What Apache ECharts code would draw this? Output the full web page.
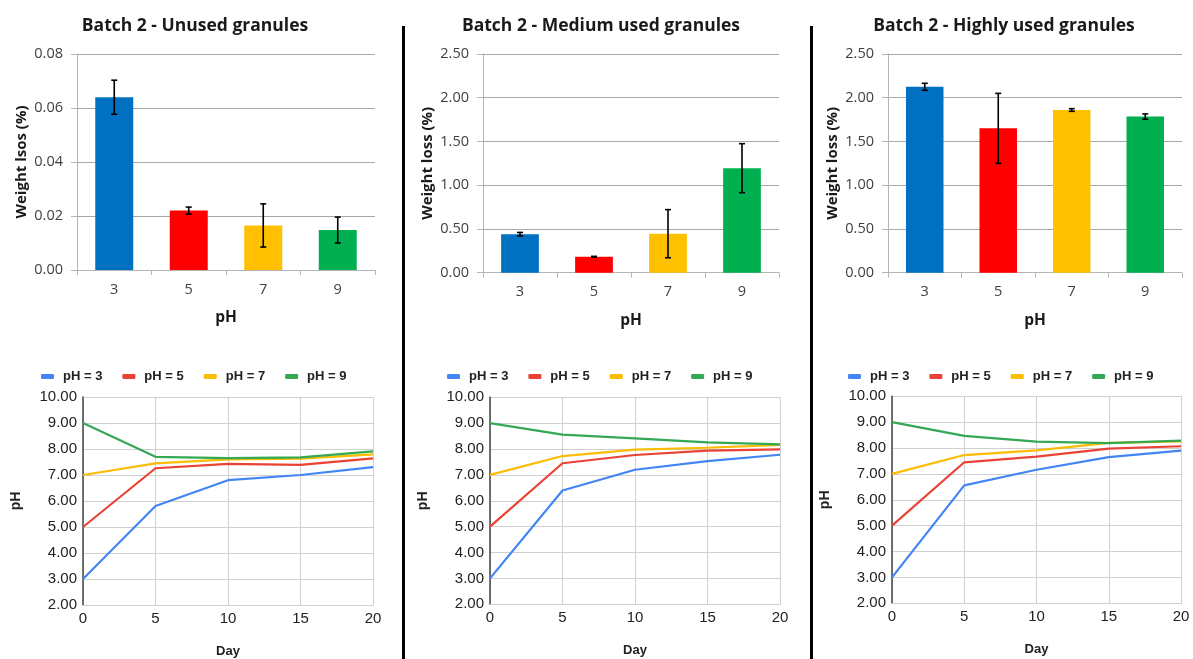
<!DOCTYPE html>
<html>
<head>
<meta charset="utf-8">
<script src="https://cdn.jsdelivr.net/npm/echarts@6/dist/echarts.min.js"></script>
<style>html,body{margin:0;padding:0;background:#fff}#c{width:1193px;height:659px}</style>
</head>
<body>
<div id="c"></div>
<script>
// ---- data ----
const phCats = ['3', '5', '7', '9'];
const barColors = ['#0070C0', '#FF0000', '#FFC000', '#00B050'];
const unusedMean = [0.064, 0.022, 0.0165, 0.0148];
const unusedErr  = [0.0063, 0.0013, 0.008, 0.0048];
const mediumMean = [0.44, 0.183, 0.446, 1.195];
const mediumErr  = [0.02, 0.004, 0.275, 0.28];
const highMean   = [2.125, 1.65, 1.86, 1.785];
const highErr    = [0.04, 0.4, 0.015, 0.03];

const days = [0, 5, 10, 15, 20];
const lineNames = ['pH = 3', 'pH = 5', 'pH = 7', 'pH = 9'];
const lineColors = ['#4285F4', '#EA4335', '#FBBC04', '#34A853'];
const unusedPH3 = [3.00, 5.81, 6.80, 7.00, 7.30];
const unusedPH5 = [5.00, 7.26, 7.43, 7.39, 7.64];
const unusedPH7 = [7.00, 7.45, 7.60, 7.63, 7.79];
const unusedPH9 = [9.00, 7.70, 7.65, 7.68, 7.91];
const mediumPH3 = [3.00, 6.40, 7.20, 7.53, 7.78];
const mediumPH5 = [5.00, 7.45, 7.77, 7.94, 7.99];
const mediumPH7 = [7.00, 7.73, 7.98, 8.05, 8.16];
const mediumPH9 = [9.00, 8.56, 8.41, 8.26, 8.18];
const highPH3   = [3.00, 6.56, 7.16, 7.65, 7.90];
const highPH5   = [5.00, 7.45, 7.67, 7.98, 8.07];
const highPH7   = [7.00, 7.73, 7.91, 8.20, 8.26];
const highPH9   = [9.00, 8.47, 8.25, 8.19, 8.29];

const titles = ['Batch 2 - Unused granules', 'Batch 2 - Medium used granules', 'Batch 2 - Highly used granules'];
const yTitles = ['Weight lsos (%)', 'Weight loss (%)', 'Weight loss (%)'];

// ---- layout ----
const barGrids = [
  {left: 77, top: 54, width: 298, height: 216},
  {left: 483, top: 54, width: 296, height: 218.7},
  {left: 888, top: 54, width: 294, height: 218.7}
];
const lineGrids = [
  {left: 83, top: 397, width: 290, height: 208},
  {left: 490, top: 397.3, width: 290, height: 207},
  {left: 892, top: 396.3, width: 289, height: 207}
];
const titleCenters = [190, 596, 999];
const legendLefts = [36, 442, 843];

const barMeans = [unusedMean, mediumMean, highMean];
const barErrs = [unusedErr, mediumErr, highErr];
const barMax = [0.08, 2.5, 2.5];
const barInt = [0.02, 0.5, 0.5];
const lineSets = [
  [unusedPH3, unusedPH5, unusedPH7, unusedPH9],
  [mediumPH3, mediumPH5, mediumPH7, mediumPH9],
  [highPH3, highPH5, highPH7, highPH9]
];

const calib = '"Open Sans", "Noto Sans", sans-serif';
const arial = '"Liberation Sans", Arial, sans-serif';

const grid = [], xAxis = [], yAxis = [], series = [], title = [], legend = [];

for (let i = 0; i < 3; i++) {
  grid.push(barGrids[i]);
  title.push({
    text: titles[i], left: titleCenters[i], top: 12, textAlign: 'center',
    textStyle: {fontFamily: calib, fontWeight: 'bold', fontSize: 17.5, color: '#1a1a1a'}
  });
  xAxis.push({
    type: 'category', gridIndex: i, data: phCats,
    name: 'pH', nameLocation: 'middle', nameGap: 40,
    nameTextStyle: {fontFamily: calib, fontWeight: 'bold', fontSize: 15.5, color: '#1a1a1a'},
    axisLine: {lineStyle: {color: '#b4b4b4', width: 1}},
    axisTick: {show: true, length: 5, lineStyle: {color: '#b4b4b4'}},
    axisLabel: {fontFamily: calib, fontSize: 14.5, color: '#404040', margin: 12}
  });
  yAxis.push({
    type: 'value', gridIndex: i, min: 0, max: barMax[i], interval: barInt[i],
    name: yTitles[i], nameLocation: 'middle', nameGap: 48,
    nameTextStyle: {fontFamily: calib, fontWeight: 'bold', fontSize: 15, color: '#1a1a1a'},
    axisLine: {show: true, lineStyle: {color: '#b4b4b4'}},
    axisTick: {show: true, length: 6, lineStyle: {color: '#b4b4b4'}},
    splitLine: {lineStyle: {color: '#a8a8a8'}},
    axisLabel: {fontFamily: calib, fontSize: 14.5, color: '#404040', margin: 14,
      formatter: v => v.toFixed(2)}
  });
  series.push({
    type: 'bar', xAxisIndex: i, yAxisIndex: i, barWidth: '51%',
    data: barMeans[i].map((v, k) => ({value: v, itemStyle: {color: barColors[k]}})),
    silent: true, z: 2
  });
  const errData = barMeans[i].map((v, k) => [k, v - barErrs[i][k], v + barErrs[i][k]]);
  series.push({
    type: 'custom', xAxisIndex: i, yAxisIndex: i, data: errData, z: 5, silent: true,
    renderItem: function (params, api) {
      const x = api.value(0);
      const lo = api.coord([x, api.value(1)]);
      const hi = api.coord([x, api.value(2)]);
      const hw = 3;
      const st = {stroke: '#000', lineWidth: 1.6};
      return {type: 'group', children: [
        {type: 'line', shape: {x1: lo[0], y1: lo[1], x2: hi[0], y2: hi[1]}, style: st},
        {type: 'line', shape: {x1: lo[0] - hw, y1: lo[1], x2: lo[0] + hw, y2: lo[1]}, style: st},
        {type: 'line', shape: {x1: hi[0] - hw, y1: hi[1], x2: hi[0] + hw, y2: hi[1]}, style: st}
      ]};
    }
  });
}

for (let i = 0; i < 3; i++) {
  const gi = 3 + i;
  grid.push(lineGrids[i]);
  xAxis.push({
    type: 'value', gridIndex: gi, min: 0, max: 20, interval: 5,
    name: 'Day', nameLocation: 'middle', nameGap: 40,
    nameTextStyle: {fontFamily: arial, fontWeight: 'bold', fontSize: 13, color: '#222'},
    axisLine: {show: true, onZero: false, lineStyle: {color: '#d0d0d0'}},
    axisTick: {show: false},
    splitLine: {show: true, lineStyle: {color: '#d0d0d0'}},
    axisLabel: {fontFamily: arial, fontSize: 15, color: '#222', margin: 6}
  });
  yAxis.push({
    type: 'value', gridIndex: gi, min: 2, max: 10, interval: 1,
    name: 'pH', nameLocation: 'middle', nameGap: 60,
    nameTextStyle: {fontFamily: arial, fontWeight: 'bold', fontSize: 14, color: '#222'},
    axisLine: {show: true, lineStyle: {color: '#444', width: 1.5}},
    axisTick: {show: false},
    splitLine: {lineStyle: {color: '#d0d0d0'}},
    axisLabel: {fontFamily: arial, fontSize: 15, color: '#222', margin: 6,
      formatter: v => v.toFixed(2)}
  });
  lineSets[i].forEach((arr, k) => {
    series.push({
      type: 'line', name: lineNames[k], xAxisIndex: gi, yAxisIndex: gi,
      data: days.map((d, j) => [d, arr[j]]),
      showSymbol: false, symbol: 'none', silent: true,
      lineStyle: {color: lineColors[k], width: 2.2},
      itemStyle: {color: lineColors[k]}, z: 3 + k
    });
  });
  legend.push({
    left: legendLefts[i], top: 365, itemWidth: 13, itemHeight: 5, itemGap: 20,
    icon: 'roundRect', selectedMode: false,
    data: lineNames.map((n, k) => ({name: n, itemStyle: {color: lineColors[k]}})),
    textStyle: {fontFamily: arial, fontWeight: 'bold', fontSize: 13, color: '#222', padding: [0, 0, 0, 4]}
  });
}

const chart = echarts.init(document.getElementById('c'), null, {renderer: 'canvas'});
chart.setOption({
  animation: false,
  title, grid, xAxis, yAxis, series, legend,
  graphic: [
    {type: 'rect', shape: {x: 402, y: 26, width: 3, height: 640}, style: {fill: '#000'}, silent: true},
    {type: 'rect', shape: {x: 810, y: 26, width: 3, height: 640}, style: {fill: '#000'}, silent: true}
  ]
});
</script>
</body>
</html>
